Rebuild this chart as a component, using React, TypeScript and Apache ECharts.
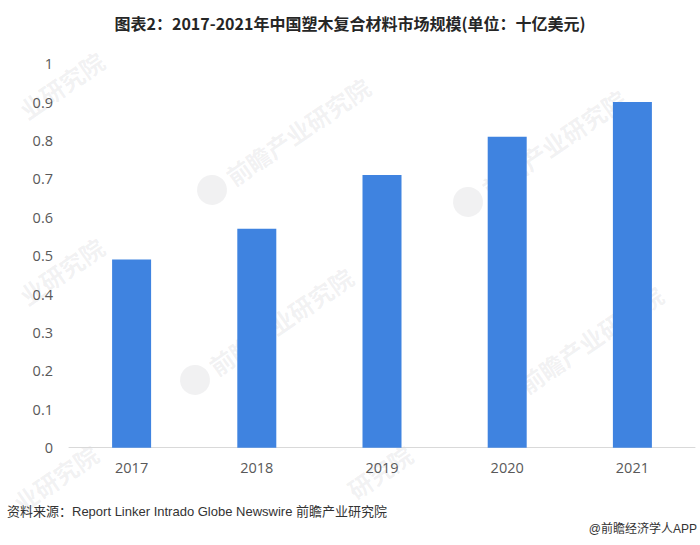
import React, { useEffect, useRef } from "react";
import * as echarts from "echarts";

const categories = ["2017", "2018", "2019", "2020", "2021"];
const marketSize = [0.49, 0.57, 0.71, 0.81, 0.9];
const yMin = 0;
const yMax = 1;
const yInterval = 0.1;

const titleText = "图表2：2017-2021年中国塑木复合材料市场规模(单位：十亿美元)";
const sourceText = "资料来源：Report Linker Intrado Globe Newswire 前瞻产业研究院";
const brandText = "@前瞻经济学人APP";
const watermarkText = "前瞻产业研究院";

// full watermarks: [x, y] of logo
const watermarkSpots: [number, number][] = [
  [212, 190],
  [468, 202],
  [195, 380],
  [505, 398],
];
// partial watermarks at the edges: [x, y, text]
const partialSpots: [number, number, string][] = [
  [22, 112, "业研究院"],
  [22, 298, "业研究院"],
  [16, 505, "业研究院"],
  [350, 492, "研究院"],
];

const wmColor = "rgba(120,120,130,0.10)";

function watermark(x: number, y: number) {
  return {
    type: "group",
    x,
    y,
    rotation: 0.6,
    silent: true,
    children: [
      {
        type: "circle",
        shape: { cx: 0, cy: 0, r: 15 },
        style: { fill: wmColor },
      },
      {
        type: "text",
        x: 20,
        y: 0,
        style: {
          text: watermarkText,
          fill: wmColor,
          font: "bold 24px 'Noto Sans CJK SC'",
          verticalAlign: "middle",
          align: "left",
        },
      },
    ],
  };
}

function partialWatermark(x: number, y: number, text: string) {
  return {
    type: "group",
    x,
    y,
    rotation: 0.6,
    silent: true,
    children: [
      {
        type: "text",
        x: 0,
        y: 0,
        style: {
          text,
          fill: wmColor,
          font: "bold 24px 'Noto Sans CJK SC'",
          verticalAlign: "middle",
          align: "left",
        },
      },
    ],
  };
}

export default function App() {
  const ref = useRef<HTMLDivElement>(null);
  useEffect(() => {
    if (!ref.current) return;
    const chart = echarts.init(ref.current, null, { renderer: "svg" });
    chart.setOption({
      animation: false,
      backgroundColor: "#ffffff",
      title: {
        text: titleText,
        left: "center",
        top: 10,
        textStyle: {
          fontFamily: "'Noto Sans CJK SC'",
          fontSize: 16,
          fontWeight: "bold",
          color: "#262626",
        },
      },
      grid: { left: 69, right: 5, top: 63.7, bottom: 97.3 },
      xAxis: {
        type: "category",
        data: categories,
        axisLine: { show: true, lineStyle: { color: "#d9d9d9", width: 1 } },
        axisTick: { show: false },
        axisLabel: {
          margin: 12,
          color: "#595959",
          fontSize: 14.5,
          fontFamily: "'Open Sans'",
        },
      },
      yAxis: {
        type: "value",
        min: yMin,
        max: yMax,
        interval: yInterval,
        axisLine: { show: false },
        axisTick: { show: false },
        splitLine: { show: false },
        axisLabel: {
          margin: 16,
          color: "#595959",
          fontSize: 14.5,
          fontFamily: "'Open Sans'",
        },
      },
      series: [
        {
          type: "bar",
          data: marketSize,
          barWidth: 39,
          itemStyle: { color: "#3F83E0" },
          z: 3,
        },
      ],
      graphic: [
        ...watermarkSpots.map(([x, y]) => watermark(x, y)),
        ...partialSpots.map(([x, y, t]) => partialWatermark(x, y, t)),
        {
          type: "text",
          left: 7,
          top: 505,
          style: {
            text: sourceText,
            fill: "#333333",
            font: "13px 'Liberation Sans', 'Noto Sans CJK SC'",
          },
        },
        {
          type: "text",
          right: 3,
          top: 523,
          style: {
            text: brandText,
            fill: "#333333",
            font: "12px 'Liberation Sans', 'Noto Sans CJK SC'",
          },
        },
      ],
    });
    return () => chart.dispose();
  }, []);
  return (
    <div
      ref={ref}
      style={{ position: "absolute", left: 0, top: 0, width: 700, height: 545 }}
    />
  );
}
